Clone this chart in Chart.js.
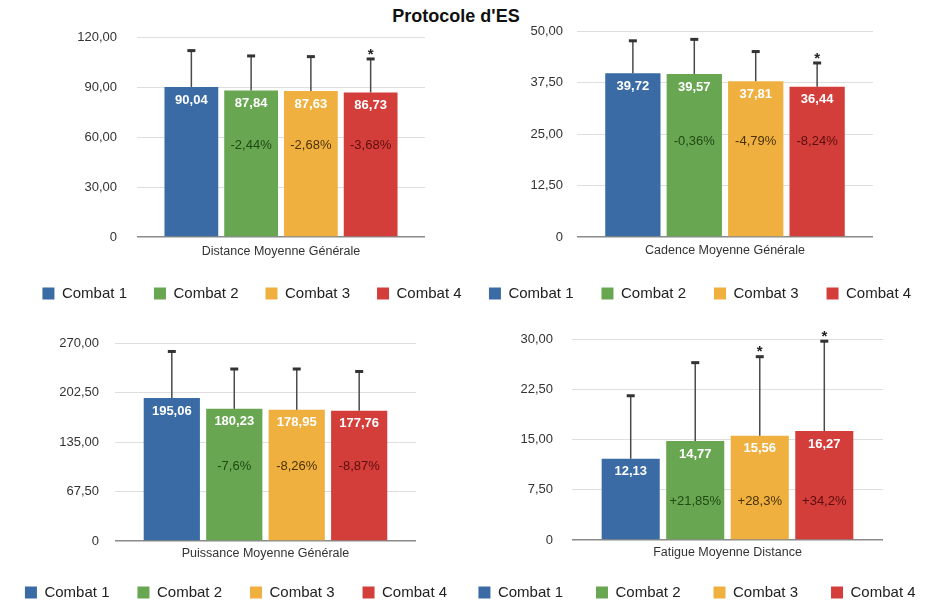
<!DOCTYPE html>
<html>
<head>
<meta charset="utf-8">
<script src="https://cdn.jsdelivr.net/npm/chart.js"></script>
<style>
  html, body {
    margin: 0;
    padding: 0;
    background: #fff;
    overflow: hidden;
    width: 934px;
    height: 603px;
  }
  #title {
    position: absolute;
    left: 0;
    top: 6px;
    width: 912px;
    line-height: 20px;
    text-align: center;
    font: bold 18px "Liberation Sans", Arial, sans-serif;
    color: #111;
  }
  canvas {
    position: absolute;
  }
</style>
</head>
<body>
<div id="title">Protocole d'ES</div>
<canvas id="c1"></canvas>
<canvas id="c2"></canvas>
<canvas id="c3"></canvas>
<canvas id="c4"></canvas>

<script>
  const combats = ['Combat 1', 'Combat 2', 'Combat 3', 'Combat 4'];

  // Distance
  const distanceLabel = ['Distance Moyenne Générale'];
  const distanceMeans = [90.04, 87.84, 87.63, 86.73];
  const distanceSD = [21.8, 20.8, 20.6, 20.1];
  const distancePct = ['', '-2,44%', '-2,68%', '-3,68%'];
  const distanceStar = [false, false, false, true];
  const distanceTicks = [0, 30, 60, 90, 120];

  // Cadence
  const cadenceLabel = ['Cadence Moyenne Générale'];
  const cadenceMeans = [39.72, 39.57, 37.81, 36.44];
  const cadenceSD = [7.9, 8.4, 7.2, 5.8];
  const cadencePct = ['', '-0,36%', '-4,79%', '-8,24%'];
  const cadenceStar = [false, false, false, true];
  const cadenceTicks = [0, 12.5, 25, 37.5, 50];

  // Puissance
  const puissanceLabel = ['Puissance Moyenne Générale'];
  const puissanceMeans = [195.06, 180.23, 178.95, 177.76];
  const puissanceSD = [63.4, 54.3, 55.6, 53.4];
  const puissancePct = ['', '-7,6%', '-8,26%', '-8,87%'];
  const puissanceStar = [false, false, false, false];
  const puissanceTicks = [0, 67.5, 135, 202.5, 270];

  // Fatigue
  const fatigueLabel = ['Fatigue Moyenne Distance'];
  const fatigueMeans = [12.13, 14.77, 15.56, 16.27];
  const fatigueSD = [9.4, 11.7, 11.8, 13.4];
  const fatiguePct = ['', '+21,85%', '+28,3%', '+34,2%'];
  const fatigueStar = [false, false, true, true];
  const fatigueTicks = [0, 7.5, 15, 22.5, 30];

  const barColors = ['#3a6ba5', '#68a651', '#f0b040', '#d43e3a'];
  const pctColors = ['#000000', '#1e4a14', '#4a3206', '#5c0d0d'];
  const FONT = '"Liberation Sans", Arial, sans-serif';

  Chart.defaults.font.family = FONT;

  function fmt(v) {
    return v === 0 ? '0' : v.toFixed(2).replace('.', ',');
  }

  // box = canvas place, yw/rw = left/right axis widths, xh = x axis height,
  // titlePad = offset of the category label, legendPad = legend spacing
  const panels = [
    {id: 'c1', label: distanceLabel, means: distanceMeans, sd: distanceSD, pct: distancePct,
     star: distanceStar, ticks: distanceTicks, pctAt: 55,
     box: {x: 12, y: 0, w: 480, h: 311}, padTop: 37, yw: 125, rw: 67, xh: 22,
     tickPad: 20, titlePad: 0, legendPad: 27},
    {id: 'c2', label: cadenceLabel, means: cadenceMeans, sd: cadenceSD, pct: cadencePct,
     star: cadenceStar, ticks: cadenceTicks, pctAt: 23.1,
     box: {x: 458, y: 0, w: 484, h: 311}, padTop: 31, yw: 119, rw: 69, xh: 21,
     tickPad: 14, titlePad: -0.5, legendPad: 28},
    {id: 'c3', label: puissanceLabel, means: puissanceMeans, sd: puissanceSD, pct: puissancePct,
     star: puissanceStar, ticks: puissanceTicks, pctAt: 101.5,
     box: {x: -6, y: 300, w: 484, h: 310}, padTop: 43, yw: 121, rw: 62, xh: 16,
     tickPad: 16, titlePad: -4, legendPad: 28},
    {id: 'c4', label: fatigueLabel, means: fatigueMeans, sd: fatigueSD, pct: fatiguePct,
     star: fatigueStar, ticks: fatigueTicks, pctAt: 5.7,
     box: {x: 443, y: 300, w: 508, h: 310}, padTop: 39, yw: 129, rw: 68, xh: 12,
     tickPad: 19, titlePad: -8, legendPad: 33}
  ];

  // error bars, value labels, % labels and stars
  function overlay(p) {
    return {
      id: 'overlay',
      afterDatasetsDraw(chart) {
        const ctx = chart.ctx;
        const y = chart.scales.y;
        ctx.save();
        chart.data.datasets.forEach((ds, i) => {
          const bar = chart.getDatasetMeta(i).data[0];
          const top = y.getPixelForValue(p.means[i] + p.sd[i]);

          ctx.strokeStyle = '#4a4a4a';
          ctx.lineWidth = 1.5;
          ctx.beginPath();
          ctx.moveTo(bar.x, bar.y);
          ctx.lineTo(bar.x, top);
          ctx.stroke();
          ctx.fillStyle = '#333';
          ctx.fillRect(bar.x - 4, top - 1.5, 8, 3);

          ctx.textAlign = 'center';
          ctx.textBaseline = 'middle';
          ctx.fillStyle = '#fff';
          ctx.font = 'bold 13px ' + FONT;
          ctx.fillText(fmt(p.means[i]), bar.x, bar.y + 13);

          if (p.pct[i]) {
            ctx.fillStyle = pctColors[i];
            ctx.font = '13px ' + FONT;
            ctx.fillText(p.pct[i], bar.x, y.getPixelForValue(p.pctAt));
          }
          if (p.star[i]) {
            ctx.fillStyle = '#222';
            ctx.font = 'bold 15px ' + FONT;
            ctx.textBaseline = 'alphabetic';
            ctx.fillText('*', bar.x, top - 9 + 8.6);
          }
        });
        ctx.restore();
      }
    };
  }

  panels.forEach(p => {
    const cv = document.getElementById(p.id);
    cv.width = p.box.w;
    cv.height = p.box.h;
    cv.style.left = p.box.x + 'px';
    cv.style.top = p.box.y + 'px';

    new Chart(cv, {
      type: 'bar',
      data: {
        labels: p.label,
        datasets: combats.map((name, i) => ({
          label: name,
          data: [p.means[i]],
          backgroundColor: barColors[i],
          borderWidth: 0
        }))
      },
      options: {
        responsive: false,
        animation: false,
        devicePixelRatio: 1,
        categoryPercentage: 0.83,
        barPercentage: 0.9,
        layout: {padding: {top: p.padTop, right: 0, left: 0, bottom: 0}},
        plugins: {
          legend: {
            position: 'bottom',
            labels: {
              boxWidth: 12,
              boxHeight: 12,
              padding: p.legendPad,
              color: '#222',
              font: {size: 15}
            }
          },
          tooltip: {enabled: false}
        },
        scales: {
          x: {
            grid: {display: false, drawTicks: false},
            border: {display: false},
            ticks: {display: false},
            title: {
              display: true,
              text: p.label[0],
              color: '#333',
              font: {size: 12.5},
              padding: {top: 0, bottom: p.titlePad}
            },
            afterFit(a) { a.height = p.xh; }
          },
          y: {
            min: p.ticks[0],
            max: p.ticks[p.ticks.length - 1],
            afterBuildTicks(a) { a.ticks = p.ticks.map(v => ({value: v})); },
            ticks: {padding: p.tickPad, color: '#333', font: {size: 13}, callback: v => fmt(v)},
            grid: {
              drawTicks: false,
              color: c => c.tick && c.tick.value === 0 ? '#8a8a8a' : '#dedede',
              lineWidth: c => c.tick && c.tick.value === 0 ? 1.5 : 1
            },
            border: {display: false},
            afterFit(a) { a.width = p.yw; }
          },
          // empty right axis, only keeps space at the right of the plot
          yr: {
            position: 'right',
            grid: {display: false, drawTicks: false},
            border: {display: false},
            ticks: {display: false},
            afterFit(a) { a.width = p.rw; }
          }
        }
      },
      plugins: [overlay(p)]
    });
  });
</script>
</body>
</html>
